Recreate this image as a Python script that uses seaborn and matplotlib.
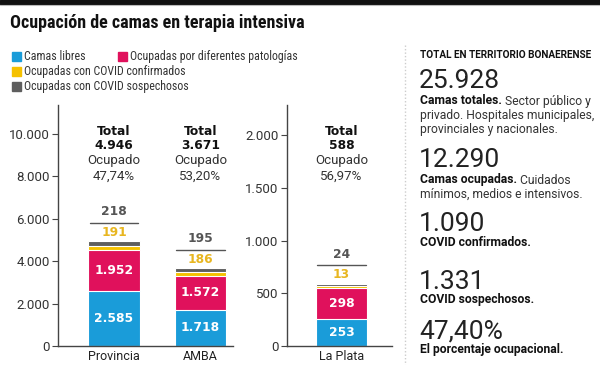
import numpy as np
import pandas as pd
import matplotlib
matplotlib.use('Agg')
import matplotlib.pyplot as plt
import seaborn as sns
from matplotlib.patches import Rectangle
from matplotlib.ticker import FuncFormatter
from matplotlib import font_manager

# -----------------------------------------------------------------------------
# Datos
# -----------------------------------------------------------------------------
regiones = ['Provincia', 'AMBA', 'La Plata']
camas_libres = [2585, 1718, 253]
ocupadas_patologias = [1952, 1572, 298]
covid_confirmados = [191, 186, 13]
covid_sospechosos = [218, 195, 24]
porcentaje_ocupado = ['47,74%', '53,20%', '56,97%']

ticks_izq = [0, 2000, 4000, 6000, 8000, 10000]
ticks_der = [0, 500, 1000, 1500, 2000]

resumen_numeros = ['25.928', '12.290', '1.090', '1.331', '47,40%']
resumen_negrita = ['Camas totales.', 'Camas ocupadas.', 'COVID confirmados.',
                   'COVID sospechosos.', 'El porcentaje ocupacional.']
resumen_texto = [[' Sector público y', 'privado. Hospitales municipales,',
                  'provinciales y nacionales.'],
                 [' Cuidados', 'mínimos, medios e intensivos.'],
                 [], [], []]

AZUL = '#1a9cd9'
MAGENTA = '#e0115c'
AMARILLO = '#f5c100'
GRIS = '#5e5e5e'

df = pd.DataFrame({'region': regiones, 'libres': camas_libres,
                   'patologias': ocupadas_patologias,
                   'confirmados': covid_confirmados,
                   'sospechosos': covid_sospechosos})
df['hasta_pat'] = df['libres'] + df['patologias']
df['hasta_conf'] = df['hasta_pat'] + df['confirmados']
df['total'] = df['hasta_conf'] + df['sospechosos']


def miles(v, pos=None):
    return f'{int(v):,}'.replace(',', '.')


# fuente angosta si hay alguna instalada
nombres = {f.name for f in font_manager.fontManager.ttflist}
ANGOSTA = None
for cand in ['Liberation Sans Narrow', 'DejaVu Sans Condensed', 'Roboto Condensed',
             'Open Sans Condensed', 'Noto Sans Condensed']:
    if cand in nombres:
        ANGOSTA = cand
        break
if ANGOSTA is None:
    ANGOSTA = 'Roboto'
    t_titulo, t_ley = 11.8, 7.8
else:
    t_titulo, t_ley = 13, 8.6

sns.set_style('ticks')
plt.rcParams['font.family'] = ['Roboto', 'DejaVu Sans']

fig = plt.figure(figsize=(6, 3.65), dpi=100)

# capa de texto en coordenadas de pixel
tx = fig.add_axes([0, 0, 1, 1])
tx.set_xlim(0, 600)
tx.set_ylim(365, 0)
tx.axis('off')

tx.add_patch(Rectangle((0, 0), 600, 4, color='#111111'))
tx.plot([0, 600], [5, 5], color='#bbbbbb', lw=0.8)
tx.text(10, 23, 'Ocupación de camas en terapia intensiva', fontsize=t_titulo,
        fontweight='bold', color='#111111', va='center', ha='left',
        family=ANGOSTA)

# leyenda
leyenda = [(12, 56.5, AZUL, 'Camas libres'),
           (118, 56.5, MAGENTA, 'Ocupadas por diferentes patologías'),
           (12, 71.5, AMARILLO, 'Ocupadas con COVID confirmados'),
           (12, 86.5, GRIS, 'Ocupadas con COVID sospechosos')]
for x, y, c, lab in leyenda:
    tx.add_patch(Rectangle((x, y - 4.5), 9, 9, color=c))
    tx.text(x + 12, y, lab, fontsize=t_ley, color='#333333', va='center',
            ha='left', family=ANGOSTA)

# separador
tx.plot([405, 405], [45, 365], color='#cccccc', lw=1, ls=(0, (1, 1.5)))


def dibujar(ax, datos, ymax, ticks, xlim, porcentajes):
    capas = [('total', GRIS), ('hasta_conf', AMARILLO),
             ('hasta_pat', MAGENTA), ('libres', AZUL)]
    for col, color in capas:
        sns.barplot(data=datos, x='region', y=col, color=color, width=0.6,
                    saturation=1, errorbar=None, edgecolor='white',
                    linewidth=0.8, ax=ax)
    ax.set_xlim(*xlim)
    ax.set_ylim(0, ymax)
    ax.set_yticks(ticks)
    ax.yaxis.set_major_formatter(FuncFormatter(miles))
    ax.set_xlabel('')
    ax.set_ylabel('')
    sns.despine(ax=ax)
    for s in ['left', 'bottom']:
        ax.spines[s].set_color('#444444')
        ax.spines[s].set_linewidth(1)
    ax.tick_params(axis='y', length=4, width=0.8, color='#444444', pad=2,
                   labelsize=9.5, labelcolor='#333333')
    ax.tick_params(axis='x', length=0, pad=3, labelsize=9, labelcolor='#222222')

    px = ymax / 241.0
    trans = ax.get_xaxis_transform()
    negrita = dict(fontsize=8.8, fontweight='bold', family='DejaVu Sans',
                   ha='center', va='center')
    for i, row in enumerate(datos.itertuples()):
        # valores dentro de las barras
        ax.text(i, row.libres / 2, miles(row.libres), color='white', **negrita)
        ax.text(i, row.libres + row.patologias / 2, miles(row.patologias),
                color='white', **negrita)
        # valores encima
        ax.text(i, row.total + 9 * px, miles(row.confirmados),
                color='#e8b620', **negrita)
        ax.plot([i - 0.28, i + 0.28], [row.total + 18.5 * px] * 2,
                color='#555555', lw=1)
        ax.text(i, row.total + 29.5 * px, miles(row.sospechosos),
                color='#555555', **negrita)
        # total y porcentaje
        ax.text(i, 0.892, 'Total', transform=trans, color='#111111', **negrita)
        ax.text(i, 0.830, miles(row.total), transform=trans, color='#111111',
                **negrita)
        ax.text(i, 0.768, 'Ocupado', transform=trans, ha='center', va='center',
                fontsize=9.5, color='#333333')
        ax.text(i, 0.705, porcentajes[i], transform=trans,
                ha='center', va='center', fontsize=9.5, color='#333333')


ax1 = fig.add_axes([58 / 600, 19 / 365, 175 / 600, 241 / 365])
dibujar(ax1, df.iloc[:2].reset_index(drop=True), 10000 * 241 / 212,
        ticks_izq, (-0.647, 1.376), porcentaje_ocupado[:2])

ax2 = fig.add_axes([287 / 600, 19 / 365, 105 / 600, 241 / 365])
dibujar(ax2, df.iloc[2:].reset_index(drop=True), 2000 * 241 / 211,
        ticks_der, (-0.63, 0.584), porcentaje_ocupado[2:])

# resumen a la derecha
tx.text(420, 55, 'TOTAL EN TERRITORIO BONAERENSE', fontsize=7.2,
        fontweight='bold', color='#111111', va='center', ha='left')
y_num = [81, 160, 224, 282, 332]
for k in range(5):
    y = y_num[k]
    tx.text(419, y, resumen_numeros[k], fontsize=19, fontweight='normal',
            color='#222222', va='center', ha='left')
    yb = y + 20 if k < 2 else y + 18
    b = tx.text(420, yb, resumen_negrita[k], fontsize=8.7, fontweight='bold',
                color='#111111', va='center', ha='left')
    for j, linea in enumerate(resumen_texto[k]):
        if j == 0:
            tx.annotate(linea, xy=(1, 0), xycoords=b, va='bottom', ha='left',
                        fontsize=8.7, color='#333333')
        else:
            tx.text(420, yb + 14 * j, linea, fontsize=8.7, color='#333333',
                    va='center', ha='left')

fig.savefig('out.png', dpi=100, facecolor='white')
